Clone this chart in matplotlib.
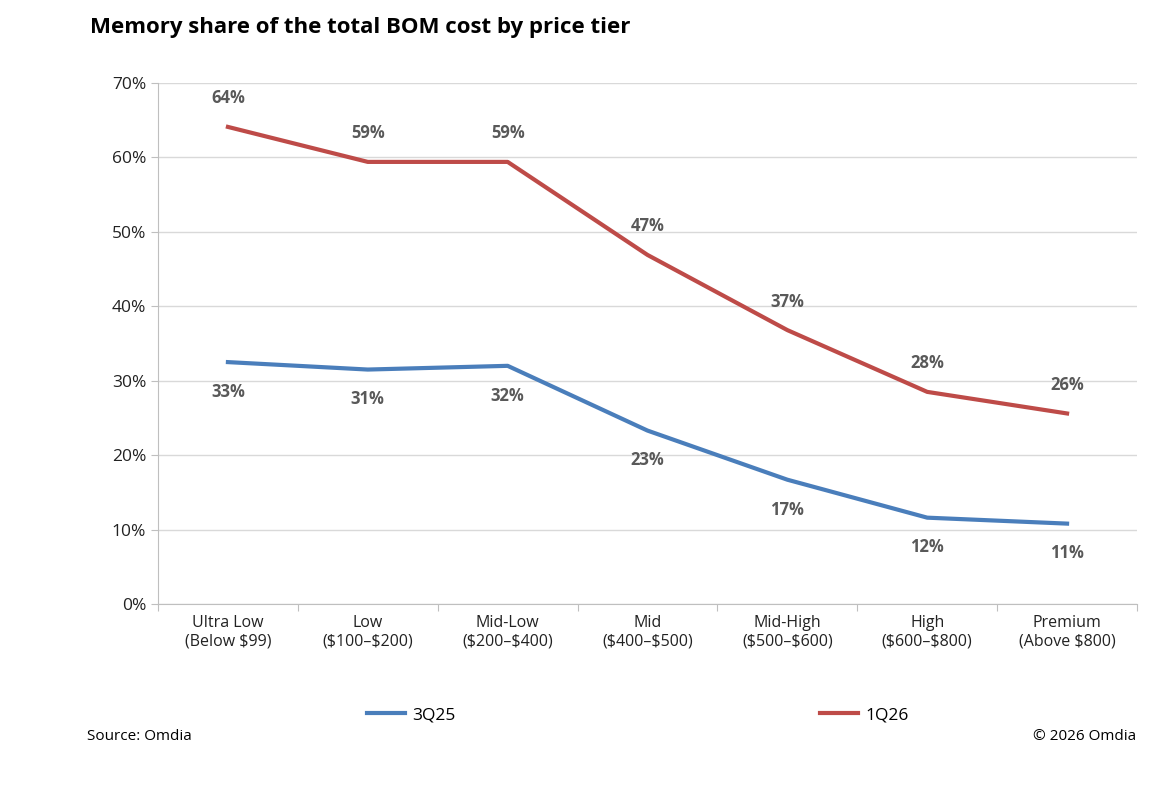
import matplotlib
matplotlib.use("Agg")
import matplotlib.pyplot as plt

categories = ["Ultra Low\n(Below \\$99)", "Low\n(\\$100–\\$200)", "Mid-Low\n(\\$200–\\$400)", "Mid\n(\\$400–\\$500)",
              "Mid-High\n(\\$500–\\$600)", "High\n(\\$600–\\$800)", "Premium\n(Above \\$800)"]
s_3q25 = [32.5, 31.5, 32.0, 23.3, 16.7, 11.6, 10.8]
s_1q26 = [64.1, 59.4, 59.4, 46.9, 36.8, 28.5, 25.6]
lbl_3q25 = ["33%", "31%", "32%", "23%", "17%", "12%", "11%"]
lbl_1q26 = ["64%", "59%", "59%", "47%", "37%", "28%", "26%"]
yticks = [0, 10, 20, 30, 40, 50, 60, 70]

plt.rcParams['font.family'] = ['Open Sans', 'DejaVu Sans']
W, H = 1159, 785
fig = plt.figure(figsize=(W/100, H/100), dpi=100)
ax = fig.add_axes([158/W, 1-604/H, (1137-158)/W, (604-83)/H])
x = list(range(len(categories)))
blue, red = "#4a7ebb", "#be4b48"
ax.plot(x, s_3q25, color=blue, lw=3, label="3Q25")
ax.plot(x, s_1q26, color=red, lw=3, label="1Q26")
for i in x:
    ax.annotate(lbl_1q26[i], (i, s_1q26[i]), xytext=(0, 14), textcoords="offset points",
                ha="center", va="bottom", fontsize=12, fontweight="bold", color="#595959")
    ax.annotate(lbl_3q25[i], (i, s_3q25[i]), xytext=(0, -15), textcoords="offset points",
                ha="center", va="top", fontsize=12, fontweight="bold", color="#595959")
ax.set_xlim(-0.5, len(categories)-0.5)
ax.set_ylim(0, 70)
ax.set_yticks(yticks)
ax.set_yticklabels([f"{t}%" for t in yticks], fontsize=12.5, color="#222222")
ax.set_xticks([i - 0.5 for i in range(len(categories)+1)], minor=False)
ax.set_xticklabels([])
ax.set_xticks(x, minor=True)
ax.set_xticklabels(categories, minor=True, fontsize=11.5, color="#222222")
ax.tick_params(axis="x", which="major", length=5, color="#bfbfbf")
ax.tick_params(axis="x", which="minor", length=0, pad=8)
ax.tick_params(axis="y", length=5, color="#bfbfbf")
ax.grid(axis="y", color="#d9d9d9", lw=1)
ax.set_axisbelow(True)
for s in ["top", "right"]:
    ax.spines[s].set_visible(False)
for s in ["left", "bottom"]:
    ax.spines[s].set_color("#bfbfbf")
fig.text(90/W, 1-27/H, "Memory share of the total BOM cost by price tier", fontsize=16,
         fontweight="bold", va="center", ha="left")
ax.legend(loc="center", bbox_to_anchor=(0.49, (604-715)/(604-83)), ncol=2, frameon=False,
          fontsize=12.5, columnspacing=21, handlelength=2.2, handletextpad=0.4)
fig.text(87/W, 1-737/H, "Source: Omdia", fontsize=11, va="center")
fig.text(1136/W, 1-737/H, "© 2026 Omdia", fontsize=11, va="center", ha="right")
fig.savefig("out.png", dpi=100)
